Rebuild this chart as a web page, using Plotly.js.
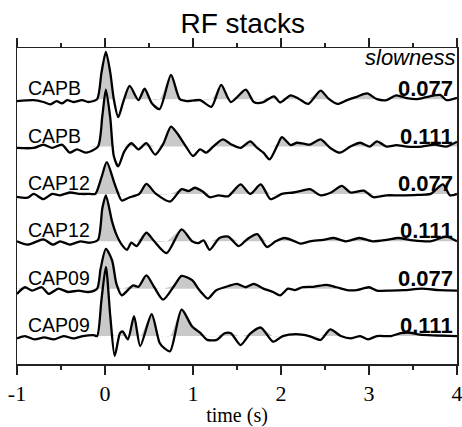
<!DOCTYPE html>
<html><head><meta charset="utf-8">
<script src="https://cdn.plot.ly/plotly-3.0.1.min.js"></script>
<style>html,body{margin:0;padding:0;background:#fff}#chart{width:462px;height:427px}</style>
</head><body><div id="chart"></div>
<script>
const stations = ['CAPB','CAPB','CAP12','CAP12','CAP09','CAP09'];
const slowness = ['0.077','0.111','0.077','0.111','0.077','0.111'];

const t1 = [-1.00,-0.81,-0.70,-0.62,-0.55,-0.49,-0.43,-0.36,-0.26,-0.19,-0.09,-0.04,0.01,0.06,0.10,0.15,0.21,0.28,0.38,0.45,0.53,0.62,0.75,0.85,0.93,1.08,1.21,1.32,1.43,1.60,1.69,1.79,1.92,1.99,2.11,2.20,2.31,2.45,2.54,2.64,2.75,2.86,2.98,3.09,3.20,3.31,3.43,3.55,3.69,3.81,3.88,4.00];
const a1 = [-0.04,-0.02,-0.06,-0.11,-0.04,-0.09,-0.02,-0.06,-0.02,-0.06,0.0,0.56,1.0,0.56,0.0,-0.38,-0.04,0.28,-0.02,0.22,-0.08,-0.21,0.51,0.0,-0.04,-0.02,-0.16,0.30,-0.06,0.20,-0.06,-0.07,0.06,-0.07,0.08,0.01,-0.10,0.18,0.01,-0.10,-0.02,0.05,0.12,0.0,-0.02,0.08,0.02,0.0,0.06,0.09,-0.02,0.03];

const t2 = [-1.00,-0.81,-0.70,-0.60,-0.49,-0.40,-0.32,-0.21,-0.08,-0.03,0.01,0.06,0.10,0.15,0.22,0.30,0.38,0.47,0.57,0.66,0.75,0.82,0.92,1.00,1.08,1.15,1.23,1.34,1.43,1.54,1.65,1.73,1.80,1.87,1.96,2.01,2.11,2.18,2.26,2.33,2.45,2.56,2.67,2.79,2.90,3.01,3.09,3.20,3.31,3.43,3.60,3.75,3.88,4.00];
const a2 = [-0.03,-0.03,0.04,-0.03,0.04,-0.13,-0.06,-0.13,0.0,0.65,1.2,0.6,-0.2,-0.42,-0.1,0.07,-0.06,0.07,-0.17,0.05,0.42,0.28,0.0,-0.2,-0.06,-0.13,0.0,0.15,0.05,-0.03,0.11,-0.03,-0.13,-0.27,0.03,0.2,0.03,0.08,0.06,0.04,0.15,-0.03,-0.13,0.0,0.08,0.0,0.11,0.0,0.03,0.0,0.0,0.04,0.0,0.1];

const t3 = [-1.00,-0.88,-0.81,-0.70,-0.60,-0.51,-0.40,-0.28,-0.17,-0.11,-0.04,0.02,0.11,0.19,0.27,0.39,0.47,0.58,0.74,0.87,0.95,1.02,1.11,1.19,1.29,1.40,1.54,1.65,1.77,1.88,2.01,2.14,2.24,2.33,2.45,2.57,2.69,2.79,2.94,3.05,3.20,3.35,3.55,3.70,3.84,3.92,4.00];
const a3 = [-0.06,-0.08,0.0,-0.11,0.0,-0.03,0.03,0.0,0.0,0.0,0.35,0.67,0.21,-0.14,-0.08,0.0,0.21,0.0,-0.16,0.1,0.06,0.13,0.05,-0.07,-0.03,-0.05,0.2,0.0,0.2,-0.11,0.0,0.03,0.07,0.10,-0.03,0.03,0.17,0.03,0.07,-0.07,-0.03,-0.03,-0.02,0.0,0.2,-0.03,0.0];

const t4 = [-1.00,-0.88,-0.77,-0.70,-0.59,-0.51,-0.40,-0.28,-0.17,-0.08,-0.03,0.01,0.08,0.13,0.19,0.25,0.30,0.36,0.47,0.56,0.70,0.87,0.99,1.06,1.12,1.19,1.30,1.40,1.52,1.62,1.73,1.84,1.94,2.04,2.13,2.22,2.33,2.48,2.60,2.74,2.89,3.04,3.20,3.33,3.50,3.70,3.88,4.00];
const a4 = [0.0,-0.07,0.0,0.04,-0.07,0.0,-0.07,0.0,-0.03,0.03,0.7,0.97,0.42,0.14,-0.07,-0.18,-0.03,-0.1,0.18,0.0,-0.25,0.25,0.0,-0.04,0.02,-0.18,0.07,0.1,-0.1,0.05,0.15,-0.12,0.0,0.07,0.02,-0.05,0.0,0.03,0.07,0.0,0.07,0.0,0.03,0.07,0.02,0.0,0.1,0.0];

const t5 = [-1.00,-0.91,-0.83,-0.72,-0.64,-0.53,-0.42,-0.30,-0.19,-0.09,-0.05,0.01,0.08,0.13,0.19,0.32,0.38,0.47,0.56,0.66,0.80,0.87,0.99,1.06,1.11,1.17,1.26,1.41,1.50,1.60,1.69,1.80,1.91,1.99,2.08,2.16,2.24,2.37,2.52,2.63,2.75,2.86,3.00,3.09,3.24,3.40,3.60,3.80,4.00];
const a5 = [-0.11,0.03,-0.04,0.03,-0.11,0.0,-0.07,-0.04,-0.07,0.0,0.42,0.84,0.6,0.1,-0.14,0.07,0.04,0.28,0.03,-0.23,0.1,0.27,0.18,0.0,-0.11,-0.21,-0.04,0.06,0.1,0.03,0.1,0.0,-0.07,-0.14,0.0,-0.03,0.03,0.04,0.08,0.03,-0.03,-0.03,0.03,-0.04,-0.04,-0.03,0.0,-0.03,-0.04];

const t6 = [-1.00,-0.91,-0.80,-0.69,-0.58,-0.47,-0.36,-0.25,-0.13,-0.09,-0.04,0.01,0.06,0.11,0.17,0.20,0.26,0.33,0.40,0.53,0.62,0.67,0.74,0.87,0.99,1.08,1.16,1.27,1.36,1.43,1.54,1.65,1.77,1.91,2.02,2.17,2.32,2.45,2.56,2.68,2.79,2.90,2.99,3.09,3.25,3.36,3.47,3.58,4.00];
const a6 = [-0.05,0.0,-0.07,-0.03,-0.07,0.0,-0.05,0.0,0.02,0.0,0.77,1.46,0.42,-0.42,0.06,0.1,-0.07,0.42,-0.21,0.46,-0.14,-0.25,-0.32,0.56,0.2,0.07,-0.08,-0.08,0.06,0.06,-0.19,0.05,0.18,-0.12,0.0,0.04,0.0,-0.08,0.14,0.0,-0.05,0.0,-0.07,0.0,0.0,0.06,0.07,0.03,0.0];

const times = [t1,t2,t3,t4,t5,t6];
const amps = [a1,a2,a3,a4,a5,a6];
const xTicks = [-1,0,1,2,3,4];

const fills = [], lines = [], annotations = [];
const n = times.length;
const SM = 0.7;
for (let i = 0; i < n; i++) {
  const off = n - i;
  const t = times[i], a = amps[i];
  fills.push({x:[-1,4], y:[off,off], mode:'lines', line:{width:0,color:'rgba(0,0,0,0)'}, hoverinfo:'skip', showlegend:false});
  fills.push({x:t, y:a.map(v => off + Math.max(v,0)), mode:'lines', line:{width:0, shape:'spline', smoothing:SM, color:'rgba(0,0,0,0)'},
    fill:'tonexty', fillcolor:'#c9c9c9', hoverinfo:'skip', showlegend:false});
  lines.push({x:t, y:a.map(v => off + v), mode:'lines', line:{color:'#000', width:2.3, shape:'spline', smoothing:SM}, showlegend:false});
  annotations.push({x:-0.885, y:off, xref:'x', yref:'y', xanchor:'left', yanchor:'bottom', text:stations[i], showarrow:false,
    font:{family:'Liberation Sans, Arial, sans-serif', size:19.5, color:'#000'}, borderpad:0, yshift:-1});
  annotations.push({x:3.97, y:off, xref:'x', yref:'y', xanchor:'right', yanchor:'bottom', text:'<b>'+slowness[i]+'</b>', showarrow:false,
    font:{family:'Liberation Sans, Arial, sans-serif', size:22, color:'#000'}, borderpad:0, yshift:-3});
}
annotations.push({x:3.985, y:6.6, xref:'x', yref:'y', xanchor:'right', yanchor:'bottom', text:'<i>slowness</i>', showarrow:false,
  font:{family:'Liberation Sans, Arial, sans-serif', size:22, color:'#000'}, borderpad:0});

const layout = {
  width:462, height:427,
  margin:{l:17, r:5, t:48, b:63, pad:0},
  paper_bgcolor:'#fff', plot_bgcolor:'#fff',
  title:{text:'RF stacks', font:{family:'Liberation Sans, Arial, sans-serif', size:28, color:'#000'},
    x:0.513, xref:'paper', y:0.946, yref:'container', yanchor:'middle'},
  xaxis:{range:[-1,4], tickvals:xTicks, ticktext:xTicks.map(String), ticks:'outside', ticklen:9, tickwidth:1.5, tickcolor:'#222',
    ticklabeloverflow:'allow',
    minor:{dtick:0.5, tick0:-1, ticks:'outside', ticklen:4, tickwidth:1.5, tickcolor:'#222', showgrid:false},
    showline:true, linewidth:1.5, linecolor:'#222', mirror:'allticks', showgrid:false, zeroline:false,
    tickfont:{family:'Liberation Serif, Times New Roman, serif', size:22, color:'#000'},
    title:{text:'time (s)', font:{family:'Liberation Serif, Times New Roman, serif', size:20, color:'#000'}, standoff:7}},
  yaxis:{range:[0.41,7.08], showline:true, linewidth:1.5, linecolor:'#222', mirror:true, ticks:'', showticklabels:false,
    showgrid:false, zeroline:false},
  annotations:annotations,
  showlegend:false
};
Plotly.newPlot('chart', fills.concat(lines), layout, {staticPlot:true, displayModeBar:false});
</script></body></html>
